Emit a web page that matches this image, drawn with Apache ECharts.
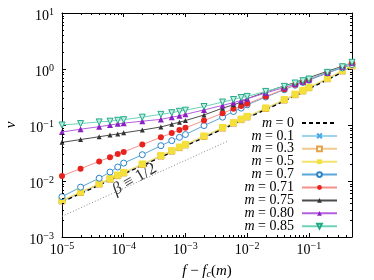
<!DOCTYPE html>
<html><head><meta charset="utf-8">
<script src="https://cdn.jsdelivr.net/npm/echarts@6/dist/echarts.min.js"></script>
<style>html,body{margin:0;padding:0;background:#fff}#c{width:374px;height:280px}</style>
</head><body><div id="c"></div>
<script>
// ---------- data ----------
const xVals = [1e-5,2e-5,4e-5,6e-5,8e-5,1e-4,2e-4,4e-4,6e-4,8e-4,1e-3,2e-3,4e-3,6e-3,8e-3,1e-2,2e-2,4e-2,6e-2,8e-2,0.1,0.2,0.35,0.5];
const v_m0   = [0.00422,0.00596,0.00843,0.01033,0.01193,0.01333,0.01886,0.02667,0.03266,0.03772,0.04217,0.0596,0.0843,0.1033,0.1193,0.1333,0.1886,0.2667,0.333,0.388,0.443,0.64,0.88,1.09];
const v_m01  = [0.0043,0.00608,0.0086,0.01054,0.01217,0.0136,0.01924,0.0272,0.03331,0.03847,0.04301,0.0608,0.086,0.1054,0.1217,0.136,0.1924,0.272,0.340,0.396,0.452,0.653,0.898,1.112];
const v_m03  = [0.00441,0.00623,0.00881,0.0108,0.01247,0.01393,0.01971,0.02787,0.03413,0.03942,0.04407,0.0623,0.0881,0.108,0.1247,0.1393,0.1971,0.2787,0.348,0.405,0.463,0.669,0.920,1.139];
const v_m05  = [0.00452,0.00638,0.00902,0.01105,0.01277,0.01426,0.02018,0.02854,0.03495,0.04036,0.04512,0.0638,0.0902,0.1105,0.1277,0.1426,0.2018,0.2854,0.356,0.415,0.474,0.685,0.942,1.166];
const v_m07  = [0.00525,0.00776,0.0112,0.01445,0.0178,0.0209,0.0295,0.0427,0.0525,0.0603,0.0676,0.0977,0.138,0.174,0.200,0.229,0.316,0.427,0.513,0.575,0.631,0.851,1.047,1.202];
const v_m071 = [0.0123,0.0166,0.0224,0.0266,0.0302,0.0331,0.0447,0.0603,0.0716,0.0813,0.0891,0.120,0.162,0.195,0.219,0.240,0.324,0.437,0.525,0.589,0.646,0.871,1.096,1.288];
const v_m075 = [0.049,0.055,0.0617,0.0661,0.0692,0.0724,0.0813,0.0923,0.1035,0.112,0.120,0.151,0.200,0.229,0.257,0.295,0.389,0.501,0.575,0.646,0.700,0.912,1.122,1.288];
const v_m080 = [0.075,0.0841,0.0933,0.100,0.105,0.108,0.117,0.126,0.138,0.146,0.155,0.186,0.224,0.251,0.275,0.295,0.372,0.468,0.537,0.589,0.646,0.851,1.096,1.288];
const v_m085 = [0.100,0.106,0.1135,0.117,0.1215,0.1245,0.138,0.155,0.166,0.176,0.184,0.214,0.257,0.285,0.309,0.324,0.398,0.490,0.562,0.617,0.661,0.871,1.096,1.318];
const betaX = [1e-5, 4.7e-3];
const betaY = [0.00234, 0.0507];
const betaLabelAt = [1.5e-4, 0.0108];
const xMin = 1e-5, xMax = 0.5, yMin = 1e-3, yMax = 10;
const xMinorTicks = [];
[-5,-4,-3,-2,-1].forEach(d => { for (let k = 2; k <= 9; k++) { const v = k * Math.pow(10, d); if (v < xMax - 1e-9) xMinorTicks.push(v); } });
const yMinorTicks = [];
[-3,-2,-1,0].forEach(d => { for (let k = 2; k <= 9; k++) yMinorTicks.push(k * Math.pow(10, d)); });

// ---------- styling ----------
const FONT = 'Liberation Serif';
function pairs(ys){ return xVals.map((x,i)=>[x, ys[i]]); }
function expLabel(v){
  const e = Math.log10(v), r = Math.round(e);
  if (Math.abs(e - r) > 1e-6) return '';
  return '{b|10}{s|' + (r < 0 ? '−' : '') + Math.abs(r) + '}';
}
const labelRich = {
  b: {fontFamily: FONT, fontSize: 14, color: '#000', padding: [2,0,2,0]},
  s: {fontFamily: FONT, fontSize: 10, color: '#000', verticalAlign: 'top', lineHeight: 10}
};
function mk(name, ys, lineColor, symbol, size, itemStyle, extra){
  return Object.assign({
    name: name, type: 'line', data: pairs(ys), symbol: symbol, symbolSize: size,
    lineStyle: {color: lineColor, width: 1}, itemStyle: itemStyle,
    emphasis: {disabled: true}, clip: true
  }, extra || {});
}
const series = [
  mk('m = 0.1', v_m01, '#9fd3f2', 'path://M0,0L10,10M10,0L0,10', 5, {color: '#4aa8e0', borderColor: '#4aa8e0', borderWidth: 1.2}),
  mk('m = 0.3', v_m03, '#f3c98f', 'rect', 6, {color: '#ffffff', borderColor: '#e3a24a', borderWidth: 1}),
  mk('m = 0.5', v_m05, '#f0e36a', 'rect', 7, {color: '#f4e03a'}),
  mk('m = 0.7', v_m07, '#5aa6d8', 'circle', 6, {color: '#ffffff', borderColor: '#2b85c8', borderWidth: 1}),
  mk('m = 0.71', v_m071, '#f4928a', 'circle', 6, {color: '#e8231e'}),
  mk('m = 0.75', v_m075, '#4d4d4d', 'triangle', 5, {color: '#333333'}),
  mk('m = 0.80', v_m080, '#b35fe0', 'triangle', 6, {color: '#8a1fc2'}),
  mk('m = 0.85', v_m085, '#6fd3b8', 'triangle', 6, {color: '#bfeee2', borderColor: '#22aa88', borderWidth: 1}, {symbolRotate: 180}),
  mk('m = 0', v_m0, '#000000', 'none', 0, {color: '#000'}, {lineStyle: {color: '#000', width: 1.3, type: [4,3]}}),
  {name: 'beta', type: 'line', data: betaX.map((x,i)=>[x, betaY[i]]), symbol: 'none',
   lineStyle: {color: '#8a8a8a', width: 1, type: [1,2]}, emphasis: {disabled: true}},
  {name: 'minor', type: 'custom', silent: true, clip: false, z: 10, data: [[xMin, yMin]],
   renderItem: function(params, api){
     const ch = [];
     const bl = api.coord([xMin, yMin]), tr = api.coord([xMax, yMax]);
     function seg(x1,y1,x2,y2){ return {type: 'line', shape: {x1:x1,y1:y1,x2:x2,y2:y2}, style: {stroke: '#000', lineWidth: 1}}; }
     xMinorTicks.forEach(v => { const px = Math.round(api.coord([v, yMin])[0]) + 0.5;
       ch.push(seg(px, bl[1], px, bl[1] - 2)); ch.push(seg(px, tr[1], px, tr[1] + 2)); });
     yMinorTicks.forEach(v => { const py = Math.round(api.coord([xMin, v])[1]) + 0.5;
       ch.push(seg(bl[0], py, bl[0] + 2, py)); ch.push(seg(tr[0], py, tr[0] - 2, py)); });
     return {type: 'group', children: ch};
   }}
];
const legendNames = ['m = 0','m = 0.1','m = 0.3','m = 0.5','m = 0.7','m = 0.71','m = 0.75','m = 0.80','m = 0.85'];

const axisCommon = {
  type: 'log', logBase: 10,
  axisLine: {show: true, lineStyle: {color: '#000', width: 1}},
  axisTick: {show: true, inside: true, length: 4, lineStyle: {color: '#000', width: 1}},
  splitLine: {show: false}, minorTick: {show: false}, minorSplitLine: {show: false}
};
const chart = echarts.init(document.getElementById('c'), null, {renderer: 'canvas'});
chart.setOption({
  animation: false,
  backgroundColor: '#fff',
  grid: {left: 62, right: 22, top: 13, bottom: 43, containLabel: false, outerBoundsMode: 'none'},
  xAxis: [
    Object.assign({}, axisCommon, {min: xMin, max: xMax, position: 'bottom',
      axisLabel: {show: true, margin: 4, formatter: expLabel, rich: labelRich, hideOverlap: false, showMinLabel: true, showMaxLabel: true},
      name: '{i|f} − {i|f}{sub|c}({i|m})', nameLocation: 'middle', nameGap: 27,
      nameTextStyle: {fontFamily: FONT, fontSize: 15, color: '#000',
        rich: {i: {fontFamily: FONT, fontStyle: 'italic', fontSize: 15, color: '#000'},
               sub: {fontFamily: FONT, fontStyle: 'italic', fontSize: 10, color: '#000', verticalAlign: 'bottom', lineHeight: 10}}}}),
    Object.assign({}, axisCommon, {min: xMin, max: xMax, position: 'top', axisLabel: {show: false}})
  ],
  yAxis: [
    Object.assign({}, axisCommon, {min: yMin, max: yMax, position: 'left',
      axisLabel: {show: true, margin: 8, padding: [6,0,0,0], formatter: expLabel, rich: labelRich, showMinLabel: true, showMaxLabel: true},
      name: 'v', nameLocation: 'middle', nameGap: 43, nameRotate: 90,
      nameTextStyle: {fontFamily: FONT, fontStyle: 'italic', fontSize: 15, color: '#000'}}),
    Object.assign({}, axisCommon, {min: yMin, max: yMax, position: 'right', axisLabel: {show: false}})
  ],
  legend: {
    data: legendNames.map((n, i) => i === 0 ? {name: n, itemStyle: {opacity: 0}} : n),
    orient: 'vertical', right: 36, top: 116, align: 'right', padding: 0,
    itemWidth: 35, itemHeight: 6, itemGap: -1.1, selectedMode: false,
    lineStyle: {width: 2},
    formatter: function(n){ return '{i|m} = ' + n.slice(4); },
    textStyle: {fontFamily: FONT, fontSize: 14, color: '#000', padding: [0,3,0,0],
      rich: {i: {fontFamily: FONT, fontStyle: 'italic', fontSize: 14, color: '#000'}}}
  },
  series: series
});
const p = chart.convertToPixel({xAxisIndex: 0, yAxisIndex: 0}, betaLabelAt);
chart.setOption({graphic: [
  {type: 'text', x: p[0], y: p[1], rotation: 30 * Math.PI / 180, silent: true,
  style: {text: '{i|β} ≡ 1/2', fontFamily: FONT, fontSize: 17, fill: '#333', align: 'center', verticalAlign: 'middle',
    rich: {i: {fontFamily: FONT, fontStyle: 'italic', fontSize: 17, fill: '#333'}}}}
]});
</script></body></html>
